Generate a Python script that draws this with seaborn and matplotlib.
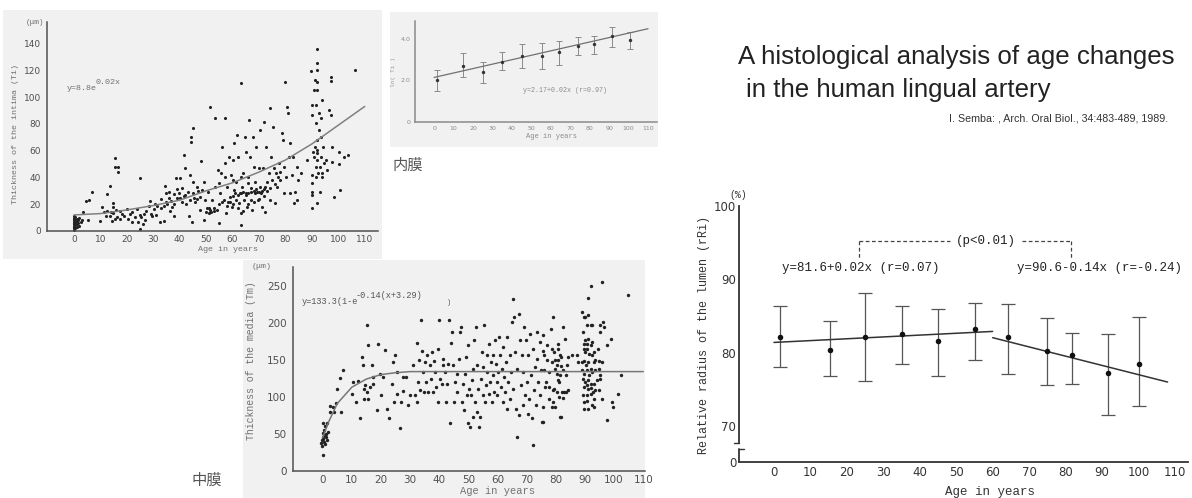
import numpy as np
import pandas as pd
import seaborn as sns
import matplotlib.pyplot as plt
from matplotlib.patches import Rectangle
from matplotlib.lines import Line2D

sns.set_style("white")
plt.rcParams['font.family'] = ['DejaVu Sans', 'Noto Sans CJK JP']

"""
Semba 1989, age changes in the human lingual artery - four panels read off the scans
"""
W, H = 1192, 498

# --- intima thickness (um) vs age, top left scatter
intima_pts = [
    (0, 1), (0, 2), (0, 3), (0, 4), (0, 5), (0, 6), (0, 7), (0, 8), (0, 9), (0, 10), (0, 11),
    (0.5, 2.5), (0.5, 4.5), (0.5, 6.5), (0.5, 8.5), (0.5, 10.5), (1, 3), (1, 5), (1, 7), (1, 9),
    (1.5, 6), (1.5, 8), (2, 4), (2, 10), (2.5, 7), (2.9, 8.3), (3.3, 13.9), (4.6, 22.4), (5.8, 22.9),
    (6.7, 29.3), (5.4, 8.3), (9.9, 7.3), (10.5, 17.6), (11.4, 13.9), (12.4, 27.8), (13.7, 33.4),
    (12.6, 15), (13.7, 11.5), (14.3, 7.3), (14.7, 13.2), (14.9, 21.2), (14.9, 17.6), (15.5, 54.6),
    (15.5, 47.6), (16.8, 47.6), (16.8, 44.4), (16.2, 10.7), (15.5, 9), (17.4, 15.1), (17.4, 9),
    (19, 11.5), (20, 16.3), (20.6, 9), (21.2, 12.7), (21.9, 6.6), (23.1, 10.2), (23.8, 16.3),
    (24.4, 6.6), (24.8, 39.5), (24.8, 1.7), (25.3, 10.2), (26, 5.4), (26.5, 12.7), (27.3, 15.1),
    (28.2, 18.8), (28.8, 22.4), (29.5, 11.5), (30.1, 16.3), (30.7, 20), (31.4, 18.8), (32.4, 6.6),
    (32.9, 23.7), (33.9, 7.8), (34.1, 18.8), (34.5, 33.4), (34.8, 28.5), (35.1, 20), (35.8, 24.9),
    (36.4, 15.1), (36.7, 22.4), (37.7, 11.5), (37.9, 27.3), (38.7, 39.5), (38.9, 31), (39.6, 28.5),
    (40.2, 39.5), (40.2, 24.9), (40.8, 32.2), (41.5, 26.1), (41.7, 56.6), (42.1, 46.8), (42.5, 20),
    (43.4, 11.5), (44, 42), (44.2, 66.7), (44.2, 70.4), (45.2, 77), (44.6, 6.6), (45.3, 24.9),
    (46.5, 23.7), (45, 36.8), (45.9, 21.9), (46.5, 33), (47.5, 15.7), (47.8, 25.6), (48, 52.2),
    (48.4, 30.6), (49, 36.8), (49.3, 8.2), (49.7, 23.1), (50.3, 16.9), (50.6, 29.4), (50.9, 13.2),
    (51.3, 92.3), (51.6, 15.7), (52.2, 23.1), (52.8, 16.9), (53.5, 84.1), (53.5, 33), (54.1, 15.7),
    (54.4, 45.5), (54.7, 5.7), (55.4, 28.1), (55.8, 43), (56, 62.9), (56.6, 23.1), (57, 84.1),
    (57.3, 50.5), (57.6, 13.2), (57.9, 33), (58.3, 21.9), (58.7, 55.5), (59.2, 25.6), (59.4, 41.8),
    (59.8, 18.2), (60.2, 53), (60.4, 30.6), (60.7, 65.4), (61.1, 23.1), (61.4, 36.8), (61.7, 71.6),
    (62, 55.5), (62.3, 20.6), (62.7, 28.1), (63, 110.2), (63.2, 13.2), (63.2, 4.5), (63.6, 33),
    (64, 43), (64.2, 23.1), (64.6, 70.4), (64.9, 59.2), (65.2, 28.1), (65.5, 18.2), (65.7, 40.5),
    (66.1, 82.8), (66.5, 55.5), (66.8, 31.8), (67, 23.1), (67.4, 15.7), (67.8, 70.4), (68, 48),
    (68.3, 28.1), (68.6, 36.8), (69, 62.9), (69.3, 29.4), (69.5, 23.1), (69.9, 46.8), (70.3, 33),
    (70.5, 75.4), (70.8, 28.1), (71.2, 18.2), (71.6, 46.8), (71.8, 81.6), (72.1, 33), (72.4, 14.4),
    (72.8, 62.9), (73.1, 36.8), (73.7, 43), (74.1, 92), (74.3, 23.1), (74.6, 55.5), (75, 38),
    (75.3, 77.9), (75.6, 46.8), (76.2, 20.6), (76.6, 43), (76.9, 33), (77.5, 50.5), (78.1, 38),
    (78.8, 72.9), (79.1, 67.9), (79.4, 28.1), (79.6, 48), (80, 111.4), (80.3, 40.5), (80.7, 92.3),
    (80.9, 87.8), (81.3, 55.5), (81.7, 28.1), (81.9, 65.4), (82.3, 41.8), (82.7, 55.5), (83.2, 20.6),
    (83.6, 29.4), (84.2, 48), (84.5, 23.1), (84.8, 38), (85.7, 43), (88.2, 53),
    (50, 14), (51, 17), (52, 14), (53, 15), (55, 20), (56, 22), (58, 19), (59, 22), (60, 26),
    (61, 28), (62, 27), (63, 28), (64, 29), (65, 27), (66, 28), (67, 29), (68, 30), (69, 31),
    (70, 29), (71, 30), (72, 31), (73, 30), (74, 32), (76, 35), (77, 40), (78, 44), (60, 20),
    (62, 17), (64, 15), (66, 20), (68, 22), (70, 24), (72, 26), (55, 36), (57, 40), (60, 38),
    (63, 40), (66, 36), (35, 22), (37, 18), (39, 25), (41, 22), (43, 29), (45, 28), (47, 30),
    (22, 14), (25, 12), (27, 8), (29, 13), (31, 12), (33, 17), (12, 11), (14, 14), (16, 16),
    (18, 13), (36, 29), (38, 20), (42, 27), (44, 23),
    (89.8, 119.4), (90.1, 94), (90.1, 86.6), (90.1, 41.8), (90.1, 35.6), (90.1, 29.4), (90.1, 26.9),
    (90.1, 16.9), (90.5, 59.2), (90.8, 105.2), (90.8, 55.5), (91, 62.9), (91.2, 112.7), (91.4, 94),
    (91.4, 80.3), (91.4, 48), (91.4, 40.5), (91.8, 58), (92.1, 135.6), (92.1, 125.1), (92.1, 120.1),
    (92.1, 111.4), (92.1, 105.2), (92.1, 67.9), (92.1, 60.4), (92.1, 53), (92.1, 20.6), (92.3, 43),
    (92.7, 87.8), (92.7, 75.4), (92.9, 48), (93, 29.4), (93.3, 84.1), (93.3, 55.5), (93.6, 70.4),
    (93.7, 40.5), (93.9, 97.8), (93.9, 43), (94.3, 62.9), (94.6, 50.5), (95.2, 53), (95.8, 45.5),
    (96.5, 90.3), (97.1, 86.6), (97.3, 115.2), (97.3, 112.2), (97.5, 62.9), (97.7, 51.7), (98.4, 25.6),
    (100.3, 59.2), (100.3, 50), (100.5, 30.6), (102.1, 55.5), (103.7, 56.7), (106.2, 120.1),
]
intima_curve_age = [0, 10, 20, 30, 40, 50, 60, 70, 80, 90, 100, 110]
intima_curve_val = [12, 13, 15.7, 19, 23, 30, 36, 44, 53, 65, 79, 93]

# --- ln(Ti) group means, top middle
ln_age = [1.4, 14.8, 24.9, 35, 45, 55.3, 64.2, 73.8, 82.2, 91.6, 100.9]
ln_mean = [2.0, 2.7, 2.4, 2.9, 3.17, 3.15, 3.35, 3.65, 3.73, 4.11, 3.94]
ln_hi = [2.5, 3.3, 2.9, 3.35, 3.76, 3.78, 3.87, 4.06, 4.13, 4.56, 4.32]
ln_lo = [1.5, 2.15, 1.85, 2.5, 2.6, 2.56, 2.75, 3.22, 3.25, 3.62, 3.5]
ln_fit_age = [0, 110]
ln_fit_val = [2.14, 4.48]

# --- media thickness (um) vs age, bottom middle scatter
media_pts = [
    (0, 21.5), (-0.7, 37.2), (-0.3, 41.7), (0, 46.1), (0.2, 50.6), (0.5, 55.1), (0.8, 60.9),
    (1.4, 64.1), (1.9, 52.9), (1.1, 46.1), (1.6, 41.7), (0.2, 64.1), (0.6, 39.4), (-0.2, 34.1),
    (0, 43), (0.4, 48), (1.2, 50), (0.9, 37), (2.5, 79.7), (3.7, 79.7), (2.5, 87.8), (3.4, 86.5),
    (4.6, 92.3), (5, 111.1), (6, 125.4), (6.3, 79.7), (6.8, 135.8), (10, 104.4), (10.5, 120.1),
    (11.4, 93.2), (12.2, 121), (12.8, 71.7), (13.4, 153.7), (13.7, 142.5), (14, 96.8), (14.2, 111.1),
    (14.5, 115.6), (15.1, 106.6), (15.3, 196.2), (15.7, 170.3), (15.7, 96.8), (16.2, 113.4),
    (16.8, 142.5), (17.2, 126.8), (17.4, 117.8), (18.5, 82), (19.1, 171.6), (19.7, 131.3),
    (19.9, 102.2), (20.8, 126.8), (21.4, 162.6), (22, 84.2), (22.9, 72.1), (23.7, 117.8), (24, 147),
    (24.3, 93.2), (24.8, 155.9), (25.4, 133.5), (25.6, 104.4), (26.5, 57.3), (26.8, 93.2),
    (27.5, 126.8), (27.7, 107.5), (28.6, 126.8), (29.4, 88.7), (30, 102.2), (31.1, 142.5),
    (31.7, 102.2), (32.3, 172.9), (32.5, 93.2), (32.8, 120.1), (33.2, 149.2), (33.4, 108.9),
    (33.6, 203), (34, 161.3), (34.3, 133.5), (34.6, 106.6), (35.1, 147), (35.5, 120.1), (35.7, 155.9),
    (36.3, 106.6), (36.8, 142.5), (37.1, 123.7), (37.4, 160.4), (37.8, 106.6), (38.2, 147.8),
    (38.6, 133.5), (39, 113.4), (39.4, 164.9), (39.7, 93.2), (40, 203), (40.3, 124.6), (40.8, 117.8),
    (41.2, 142.5), (41.4, 151.4), (42, 133.5), (42.3, 93.2), (42.6, 117.8), (43.1, 144.7),
    (43.5, 203), (43.7, 64.1), (43.9, 172.9), (44.3, 187.3), (44.6, 142.5), (44.9, 93.2),
    (45.4, 120.1), (46, 131.3), (46.2, 106.6), (46.6, 151.4), (47.1, 187.3), (47.4, 194),
    (47.7, 93.2), (48.3, 117.8), (48.5, 82), (48.9, 131.3), (49.2, 153.7), (49.4, 102.2),
    (49.7, 64.1), (50, 169.4), (50.3, 111.1), (50.6, 59.6), (50.8, 102.2), (51.1, 122.3),
    (51.5, 138), (51.7, 73), (51.9, 176.1), (52.3, 93.2), (52.6, 194), (52.9, 79.7), (53.1, 142.5),
    (53.4, 111.1), (53.8, 59.6), (54, 73), (54.2, 124.6), (54.6, 160.4), (54.9, 102.2), (55.1, 140.2),
    (55.4, 196.2), (55.7, 93.2), (56.1, 115.6), (56.3, 155.9), (56.5, 133.5), (56.9, 104.4),
    (57.2, 171.6), (57.4, 120.1), (57.7, 147), (58, 93.2), (58.4, 155.9), (58.6, 129), (58.8, 106.6),
    (59.2, 176.1), (59.5, 144.7), (59.7, 102.2), (59.9, 120.1), (60.3, 133.5), (60.6, 180.6),
    (60.9, 155.9), (61.1, 113.4), (61.4, 138), (61.8, 93.2), (62, 167.1), (62.2, 126.8),
    (62.6, 106.6), (62.9, 147), (63.2, 84.2), (63.4, 180.6), (63.7, 120.1), (64.1, 155.9),
    (64.3, 97.7), (64.5, 133.5), (64.9, 200.7), (65.2, 232.1), (65.4, 111.1), (65.7, 207.4),
    (66, 160.4), (66.4, 84.2), (66.6, 46.1), (66.8, 138), (67.2, 211.9), (67.5, 75.3), (67.7, 176.1),
    (68, 115.6), (68.3, 155.9), (68.6, 88.7), (68.9, 133.5), (69.1, 194), (69.5, 102.2),
    (69.8, 176.1), (70, 120.1), (70.3, 77.5), (70.6, 155.9), (70.9, 97.7), (71.2, 185), (71.4, 129),
    (71.7, 70.8), (72.1, 34.9), (72.3, 164.9), (72.5, 108.9), (72.9, 140.2), (73.2, 88.7),
    (73.5, 187.3), (73.7, 151.4), (74, 120.1), (74.4, 173.8), (74.6, 102.2), (74.8, 135.8),
    (75.2, 66.3), (75.5, 182.8), (75.7, 86.5), (76, 155.9), (76.3, 113.4), (76.9, 169.4),
    (77.5, 133.5), (77.8, 97.7), (78.3, 191.8), (78.6, 147), (78.9, 207.4), (79.2, 111.1),
    (79.4, 160.4), (79.7, 86.5), (80.3, 142.5), (80.9, 171.6), (81.2, 120.1), (81.5, 73),
    (81.7, 153.7), (82, 106.6), (82.4, 135.8), (82.6, 194), (83.2, 178.3), (83.8, 142.5),
    (84.3, 108.9), (85.5, 155.9), (87.2, 155.9), (75.7, 162.4), (78.6, 164.7), (80.9, 164.7),
    (81.4, 155.8), (77, 149), (79.6, 149), (80.9, 149), (81.7, 142), (84.3, 153.6), (83.5, 129),
    (76.1, 135.6), (79.6, 137.8), (80.3, 131), (76.6, 120), (77.6, 113), (80.9, 122), (81.4, 129),
    (80.3, 106), (79.1, 108.7), (81.2, 100), (82.8, 106), (83.5, 106), (79.1, 93.2), (82.4, 98.7),
    (81.8, 73.1), (78.7, 86.5), (75.7, 66.3),
    (88.9, 214), (89.5, 207.4), (90.1, 207.4), (91.2, 209.7), (91.2, 233.4), (92, 250), (90.6, 196.2),
    (89.2, 187.3), (91.9, 197.1), (92.4, 197.1), (89.5, 171.6), (90.1, 176.1), (90.6, 171.6),
    (91.2, 178.3), (91.9, 169.4), (92.4, 173.8), (89.5, 164.9), (90.1, 160.4), (90.8, 164.9),
    (91.5, 158.2), (92.4, 155.9), (93, 160.4), (94.3, 164), (88.9, 147), (89.7, 147.8), (90.4, 142.5),
    (91.2, 147), (91.9, 138), (93, 147), (93.6, 149.2), (94.8, 147.8), (95.9, 147), (87.7, 147),
    (88.9, 135.8), (89.5, 131.3), (90.6, 135.8), (91.5, 129), (92.4, 133.5), (93.6, 135.8),
    (94.8, 138), (95.3, 129), (89.2, 124.6), (90.1, 120.1), (91.2, 122.8), (91.9, 117.8),
    (93, 117.8), (94.1, 122.3), (95, 123.7), (89.5, 113.4), (90.6, 115.6), (91.2, 111.1), (92, 112),
    (92.7, 106.6), (93.6, 108.9), (94.8, 108.9), (95.9, 97.7), (89.2, 102.2), (90.6, 102.2),
    (91.9, 104.4), (93, 97.7), (89.5, 93.2), (90.8, 94.2), (92.4, 88.7), (89.5, 84.2), (91.2, 83.3),
    (93, 86.5), (96.2, 200.7), (95.9, 254.5), (95.3, 196.2), (96.4, 194), (97.5, 169.4),
    (98.9, 178.3), (95.3, 187.3), (97.5, 68.1), (99.2, 93.2), (99.6, 86.5), (101.5, 103.7),
    (102.3, 129), (104.9, 236.6),
]
media_curve_age = [0, 2, 5, 10, 15, 20, 25, 30, 110]
media_curve_val = [45, 66, 91, 113, 124, 130, 132.5, 134, 134]

# --- relative radius of the lumen (%), right panel
lumen_age = [1.7, 15.3, 25.1, 35, 45, 55.1, 64.2, 75, 81.8, 91.6, 100.2]
lumen_mean = [82.2, 80.4, 82.2, 82.5, 81.6, 83.2, 82.2, 80.2, 79.7, 77.2, 78.5]
lumen_hi = [86.3, 84.3, 88.2, 86.4, 86.0, 86.8, 86.7, 84.7, 82.7, 82.6, 84.9]
lumen_lo = [78.1, 76.8, 76.1, 78.4, 76.8, 79.0, 77.1, 75.6, 75.8, 71.5, 72.7]
lumen_fit1_age = [0, 60]
lumen_fit1_val = [81.4, 82.9]
lumen_fit2_age = [60, 108]
lumen_fit2_val = [82.05, 76.0]

intima = pd.DataFrame(intima_pts, columns=["age", "val"])
media = pd.DataFrame(media_pts, columns=["age", "val"])

MONO = "Liberation Mono"
SCAN_TXT = "#707070"
SCAN_AX = "#505050"

fig = plt.figure(figsize=(W / 100, H / 100), dpi=100)


def px_axes(l, t, r, b):
    return fig.add_axes([l / W, 1 - b / H, (r - l) / W, (b - t) / H])


def ftext(x, y, s, **kw):
    kw.setdefault("va", "center")
    return fig.text(x / W, 1 - y / H, s, **kw)


def scan_bg(l, t, r, b, c="#f1f1f1"):
    fig.patches.append(Rectangle((l / W, 1 - b / H), (r - l) / W, (b - t) / H,
                                 transform=fig.transFigure, facecolor=c, edgecolor="none", zorder=-10))


def style(ax, col, lsize, ticklen=3):
    ax.set_facecolor("none")
    for s in ["top", "right"]:
        ax.spines[s].set_visible(False)
    for s in ["left", "bottom"]:
        ax.spines[s].set_color(col)
        ax.spines[s].set_linewidth(1.1)
    ax.tick_params(axis="x", direction="in", length=ticklen, width=0.8, colors=col, labelsize=lsize,
                   labelcolor=col, pad=3)
    ax.tick_params(axis="y", direction="out", length=ticklen, width=0.8, colors=col, labelsize=lsize,
                   labelcolor=col, pad=1.5)
    ax.set_xlabel(None)
    ax.set_ylabel(None)


# scanned backgrounds
scan_bg(3, 10, 382, 259)
scan_bg(390, 12, 658, 147)
scan_bg(243, 260, 645, 498)

# Panel 1: intima
ax1 = px_axes(47, 22, 378, 231)
sns.scatterplot(data=intima, x="age", y="val", ax=ax1, s=5, color="#222222", linewidth=0)
sns.lineplot(x=intima_curve_age, y=intima_curve_val, ax=ax1, color="#808080", lw=1.1)
ax1.set_xlim(-10.2, 115)
ax1.set_ylim(0, 156)
ax1.set_xticks(range(0, 111, 10))
ax1.set_yticks(range(0, 141, 20))
style(ax1, SCAN_AX, 6.5)
ftext(35, 22, "(\u03bcm)", family=MONO, size=5.5, color=SCAN_TXT, ha="center")
ftext(16, 134, "Thickness of the intima (Ti)", family=MONO, size=6, color=SCAN_TXT, ha="center", rotation=90)
ftext(67, 89, "y=8.8e", family=MONO, size=6, color=SCAN_TXT, ha="left")
ftext(96, 82, "0.02x", family=MONO, size=6, color=SCAN_TXT, ha="left")
ftext(228, 249, "Age in years", family=MONO, size=6, color=SCAN_TXT, ha="center")

# Panel 2: ln(Ti)
ax2 = px_axes(415, 21, 657, 122)
ax2.errorbar(ln_age, ln_mean, yerr=[np.subtract(ln_mean, ln_lo), np.subtract(ln_hi, ln_mean)],
             fmt="none", ecolor="#8a8a8a", elinewidth=0.7, capsize=2.2, capthick=0.7)
sns.lineplot(x=ln_fit_age, y=ln_fit_val, ax=ax2, color="#707070", lw=0.9)
sns.scatterplot(x=ln_age, y=ln_mean, ax=ax2, s=6, color="#333333", linewidth=0, zorder=5)
ax2.set_xlim(-9.8, 114.6)
ax2.set_ylim(0, 4.85)
ax2.set_xticks(range(0, 111, 10))
ax2.set_yticks([0, 2, 4])
ax2.set_yticklabels(["0", "2.0", "4.0"])
style(ax2, "#8a8a8a", 4.5, ticklen=2)
ftext(393, 72, "ln( Ti )", family=MONO, size=4.5, color="#9a9a9a", ha="center", rotation=90)
ftext(523, 90, "y=2.17+0.02x (r=0.97)", family=MONO, size=4.8, color="#8a8a8a", ha="left")
ftext(552, 136, "Age in years", family=MONO, size=5, color="#8a8a8a", ha="center")

# Panel 3: media
ax3 = px_axes(293, 267, 645, 471)
sns.scatterplot(data=media, x="age", y="val", ax=ax3, s=6, color="#222222", linewidth=0)
sns.lineplot(x=media_curve_age, y=media_curve_val, ax=ax3, color="#777777", lw=1.1)
ax3.set_xlim(-10.2, 110.6)
ax3.set_ylim(0, 275)
ax3.set_xticks(range(0, 111, 10))
ax3.set_yticks(range(0, 251, 50))
style(ax3, SCAN_AX, 7.5)
ftext(262, 267, "(\u03bcm)", family=MONO, size=6, color=SCAN_TXT, ha="center")
ftext(251, 361, "Thickness of the media (Tm)", family=MONO, size=7.1, color=SCAN_TXT, ha="center", rotation=90)
ftext(302, 301, "y=133.3(1-e", family=MONO, size=6.2, color="#555555", ha="left")
ftext(356, 295, "-0.14(x+3.29)", family=MONO, size=6.2, color="#555555", ha="left")
ftext(447, 303, ")", family=MONO, size=5, color="#555555", ha="left")
ftext(497, 491, "Age in years", family=MONO, size=7.5, color=SCAN_TXT, ha="center")

# Panel 4: lumen
ax4 = px_axes(739, 206, 1188, 462)
ax4.errorbar(lumen_age, lumen_mean, yerr=[np.subtract(lumen_mean, lumen_lo), np.subtract(lumen_hi, lumen_mean)],
             fmt="none", ecolor="#555555", elinewidth=0.9, capsize=5, capthick=0.9)
sns.lineplot(x=lumen_fit1_age, y=lumen_fit1_val, ax=ax4, color="#333333", lw=1.1)
sns.lineplot(x=lumen_fit2_age, y=lumen_fit2_val, ax=ax4, color="#333333", lw=1.1)
sns.scatterplot(x=lumen_age, y=lumen_mean, ax=ax4, s=16, color="#111111", linewidth=0, zorder=5)
ax4.set_xlim(-9.6, 113.6)
ax4.set_ylim(65.1, 100)
ax4.set_xticks(range(0, 111, 10))
ax4.set_yticks([65.1, 70, 80, 90, 100])
ax4.set_yticklabels(["0", "70", "80", "90", "100"])
style(ax4, "#333333", 8.5, ticklen=3.5)
ax4.tick_params(axis="y", direction="in", pad=2)
ax4.spines["left"].set_bounds(67.7, 100)
ax4.spines["left"].set_linewidth(1.3)
ax4.spines["bottom"].set_linewidth(1.3)
# axis break on the y axis
ax4.plot([-9.6, -9.6], [65.1, 66.9], color="#333333", lw=1.3, clip_on=False)
ax4.plot([-9.6, -8.3], [66.9, 66.9], color="#333333", lw=1.0, clip_on=False)
ax4.plot([-10.9, -9.6], [67.7, 67.7], color="#333333", lw=1.0, clip_on=False)

ftext(738, 195, "(%)", family=MONO, size=7, color="#333333", ha="center")
ftext(704, 335, "Relative radius of the lumen (rRi)", family=MONO, size=8.5, color="#333333",
      ha="center", rotation=90)
ftext(782, 268, "y=81.6+0.02x (r=0.07)", family=MONO, size=9, color="#222222", ha="left")
ftext(1017, 268, "y=90.6-0.14x (r=-0.24)", family=MONO, size=9, color="#222222", ha="left")
for seg in [([859, 950], [241, 241]), ([1022, 1071], [241, 241]), ([859, 859], [241, 258]),
            ([1071, 1071], [241, 258])]:
    fig.add_artist(Line2D([v / W for v in seg[0]], [1 - v / H for v in seg[1]], color="#444444",
                          lw=0.9, ls=(0, (3, 2)), transform=fig.transFigure))
ftext(986, 241, "(p<0.01)", family=MONO, size=9, color="#222222", ha="center")
ftext(990, 492, "Age in years", family=MONO, size=9, color="#333333", ha="center")

# titles and labels
ftext(738, 57, "A histological analysis of age changes", family="Liberation Sans", size=18.6,
      color="#222222", ha="left")
ftext(746, 90, "in the human lingual artery", family="Liberation Sans", size=18.6,
      color="#222222", ha="left")
ftext(1168, 118, "I. Semba: , Arch. Oral Biol., 34:483-489, 1989.", family="Liberation Sans",
      size=7.7, color="#333333", ha="right")
ftext(393, 165, "内膜", family=["Noto Sans CJK JP", "DejaVu Sans"], size=11, color="#555555", ha="left")
ftext(192, 480, "中膜", family=["Noto Sans CJK JP", "DejaVu Sans"], size=11, color="#555555", ha="left")

plt.savefig("out.png", dpi=100)
plt.close()
